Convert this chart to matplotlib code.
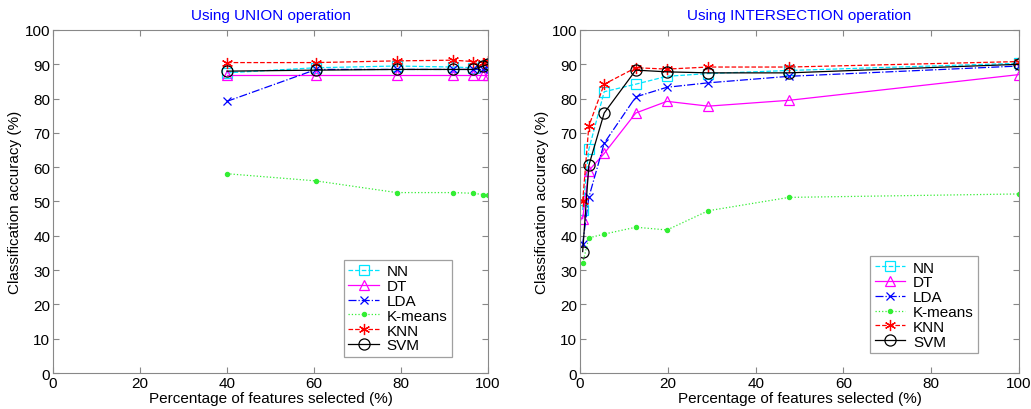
import matplotlib
matplotlib.use('Agg')
import matplotlib.pyplot as plt

plt.rcParams['font.family'] = ['Liberation Sans', 'DejaVu Sans']

# 왼쪽: UNION
union_x = [40, 60.5, 79, 92, 96.6, 98.9, 100]
union_nn = [87.5, 89, 89.5, 89.2, 89, 89.5, 90]
union_dt = [86.8, 86.8, 86.8, 86.8, 86.8, 86.8, 86.8]
union_lda = [79.2, 88.5, 88.5, 88.5, 88.5, 88.5, 89.5]
union_km = [58.1, 56, 52.6, 52.6, 52.4, 52, 52]
union_knn = [90.5, 90.5, 91, 91.2, 90.8, 90.5, 91]
union_svm = [88, 88.3, 88.5, 88.5, 88.5, 89.5, 90]

# 오른쪽: INTERSECTION
inter_x = [0.6, 2.0, 5.5, 12.7, 19.8, 29.2, 47.6, 100]
inter_nn = [47.5, 65.2, 82, 84.2, 86.5, 87.3, 88.2, 90.3]
inter_dt = [45, 59, 64, 75.8, 79.2, 77.8, 79.5, 87]
inter_lda = [37.7, 51.2, 67, 80.5, 83.3, 84.6, 86.5, 89.5]
inter_km = [32, 39.4, 40.5, 42.5, 41.7, 47.3, 51.2, 52.2]
inter_knn = [50, 72, 84.2, 89, 88.6, 89.2, 89.2, 90.8]
inter_svm = [35.4, 60.5, 75.8, 88.3, 87.8, 87.5, 87.5, 90]

labels = ['NN', 'DT', 'LDA', 'K-means', 'KNN', 'SVM']
styles = [
    dict(color='#00e5ff', linestyle='--', marker='s', mfc='none', markersize=6.5),
    dict(color='#ff00ff', linestyle='-', marker='^', mfc='none', markersize=7.5),
    dict(color='#0000ff', linestyle='-.', marker='x', markersize=6),
    dict(color='#33ee33', linestyle=':', marker='.', markersize=6),
    dict(color='#ff0000', linestyle='--', marker=(6, 2, 0), markersize=8),
    dict(color='black', linestyle='-', marker='o', mfc='none', markersize=8),
]

fig = plt.figure(figsize=(10.31, 4.10), dpi=100)
ax1 = fig.add_axes([0.0514, 0.0878, 0.4219, 0.8366])
ax2 = fig.add_axes([0.5626, 0.0878, 0.4258, 0.8366])


def draw(ax, x, series, title, legend_anchor):
    for y, lab, st in zip(series, labels, styles):
        kw = dict(linewidth=0.9, markeredgewidth=0.9)
        kw.update(st)
        ax.plot(x, y, label=lab, **kw)
    ax.set_xlim(0, 100)
    ax.set_ylim(0, 100)
    ax.set_xticks(range(0, 101, 20))
    ax.set_yticks(range(0, 101, 10))
    ax.tick_params(direction='in', top=True, right=True, labelsize=11,
                   color='#888888', length=4, pad=2)
    for s in ax.spines.values():
        s.set_color('#888888')
    ax.set_title(title, color='#0000ff', fontsize=11, pad=8)
    ax.set_xlabel('Percentage of features selected (%)', fontsize=11, labelpad=1)
    ax.set_ylabel('Classification accuracy (%)', fontsize=11, labelpad=2)
    leg = ax.legend(loc='lower right', bbox_to_anchor=legend_anchor, fontsize=11,
                    frameon=True, fancybox=False, handlelength=2.0,
                    borderpad=0.3, labelspacing=0.05, handletextpad=0.5,
                    borderaxespad=0)
    leg.get_frame().set_edgecolor('#888888')
    leg.get_frame().set_linewidth(0.9)


draw(ax1, union_x, [union_nn, union_dt, union_lda, union_km, union_knn, union_svm],
     'Using UNION operation', (0.917, 0.047))
draw(ax2, inter_x, [inter_nn, inter_dt, inter_lda, inter_km, inter_knn, inter_svm],
     'Using INTERSECTION operation', (0.907, 0.058))

plt.savefig('out.png', dpi=100)
